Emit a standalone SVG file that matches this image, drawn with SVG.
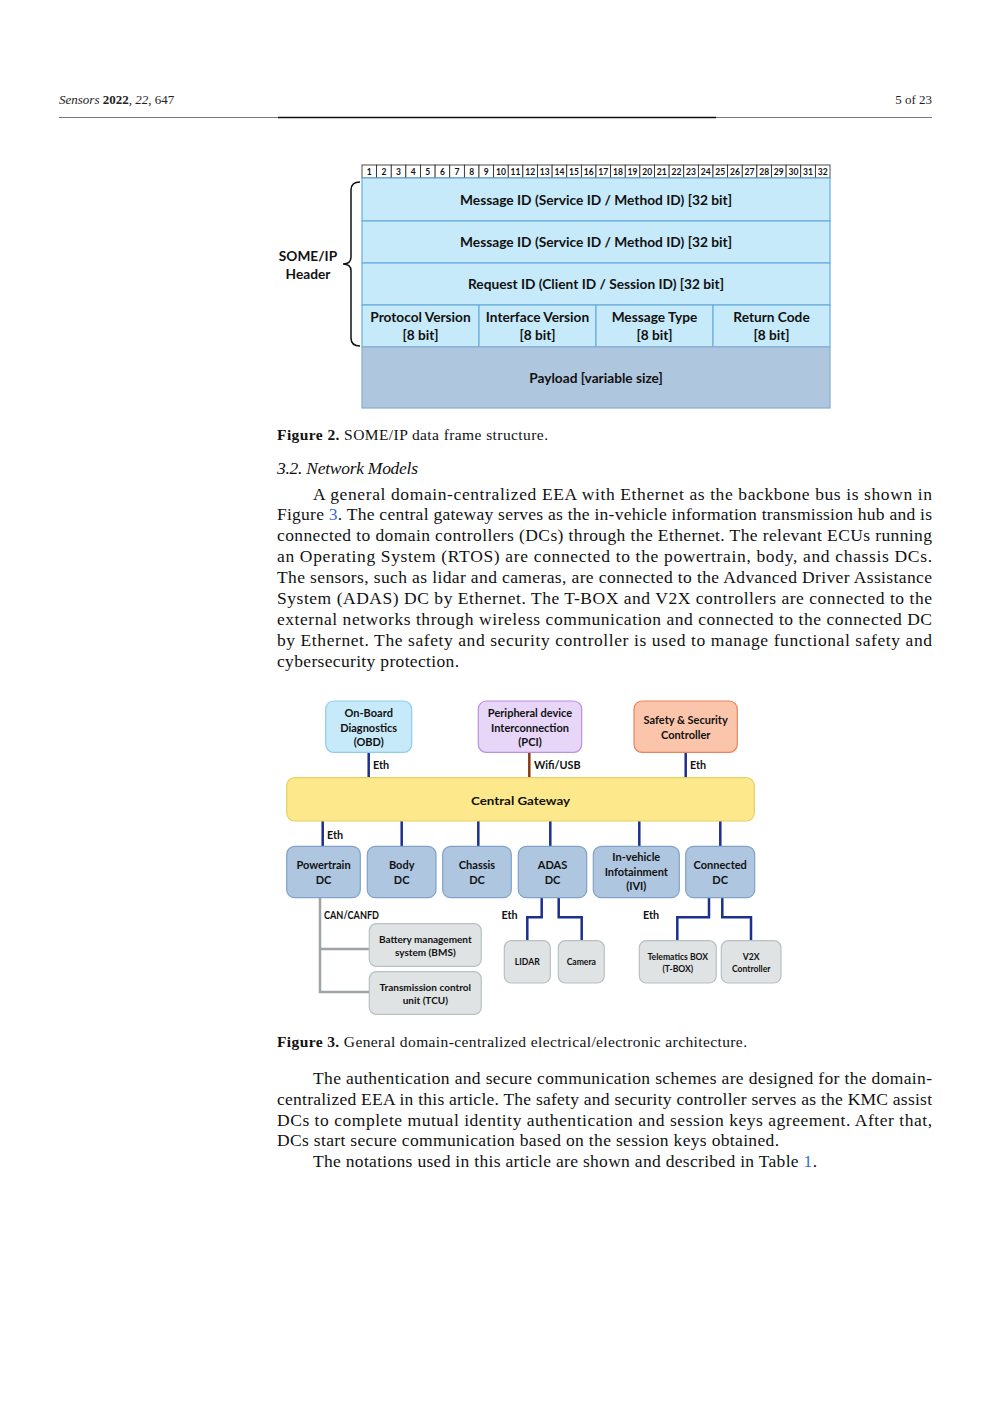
<svg xmlns="http://www.w3.org/2000/svg" width="992" height="1403" viewBox="0 0 992 1403">
<style>
.body{font-family:"Liberation Serif","DejaVu Serif",serif;font-size:17.5px;fill:#111}
.cap{font-family:"Liberation Serif",serif;font-size:15.5px;fill:#111}
.hdr{font-family:"Liberation Serif",serif;font-size:13px;fill:#222}
.lnk{fill:#3a6fd8}
.f2{font-family:Lato,"Open Sans",sans-serif;font-weight:bold;font-size:13.7px;fill:#111;text-anchor:middle}
.bit{font-family:Lato,sans-serif;font-weight:bold;font-size:8.5px;fill:#111;text-anchor:middle}
.bitc{fill:#fff;stroke:#222;stroke-width:0.8}
.row{fill:#c6eafa;stroke:#6aaee0;stroke-width:1.2}
.pay{fill:#aec6de;stroke:#8aaccd;stroke-width:1.2}
.n{font-family:Lato,"Open Sans",sans-serif;font-weight:bold;font-size:11px;fill:#111;text-anchor:middle}
.s{font-family:Lato,"Open Sans",sans-serif;font-weight:bold;font-size:10px;fill:#111;text-anchor:middle}
.t{font-family:Lato,"Open Sans",sans-serif;font-weight:bold;font-size:8.6px;fill:#111;text-anchor:middle}
.lb{font-family:Lato,"Open Sans",sans-serif;font-weight:bold;font-size:10.8px;fill:#111}
.dc{fill:#aec6df;stroke:#7fa2c6;stroke-width:1.2}
.gr{fill:#dfe3e4;stroke:#b9c0c3;stroke-width:1.2}
.eth{stroke:#1b2f8f;stroke-width:2.5;fill:none}
.can{stroke:#9ea5a7;stroke-width:2.5;fill:none}
</style>

<!-- page header -->
<g id="page-header">
<text class="hdr" x="59" y="104"><tspan font-style="italic">Sensors</tspan> <tspan font-weight="bold">2022</tspan>, <tspan font-style="italic">22</tspan>, 647</text>
<text class="hdr" x="932" y="104" text-anchor="end">5 of 23</text>
<line x1="59" y1="117.5" x2="932" y2="117.5" stroke="#555" stroke-width="0.8"/>
<line x1="278" y1="117.5" x2="716" y2="117.5" stroke="#111" stroke-width="1.6"/>
</g>

<!-- Figure 2 -->
<g id="fig2-bits">
<rect class="bitc" x="362.000" y="165" width="14.625" height="13"/><text class="bit" x="369.31" y="175">1</text>
<rect class="bitc" x="376.625" y="165" width="14.625" height="13"/><text class="bit" x="383.94" y="175">2</text>
<rect class="bitc" x="391.250" y="165" width="14.625" height="13"/><text class="bit" x="398.56" y="175">3</text>
<rect class="bitc" x="405.875" y="165" width="14.625" height="13"/><text class="bit" x="413.19" y="175">4</text>
<rect class="bitc" x="420.500" y="165" width="14.625" height="13"/><text class="bit" x="427.81" y="175">5</text>
<rect class="bitc" x="435.125" y="165" width="14.625" height="13"/><text class="bit" x="442.44" y="175">6</text>
<rect class="bitc" x="449.750" y="165" width="14.625" height="13"/><text class="bit" x="457.06" y="175">7</text>
<rect class="bitc" x="464.375" y="165" width="14.625" height="13"/><text class="bit" x="471.69" y="175">8</text>
<rect class="bitc" x="479.000" y="165" width="14.625" height="13"/><text class="bit" x="486.31" y="175">9</text>
<rect class="bitc" x="493.625" y="165" width="14.625" height="13"/><text class="bit" x="500.94" y="175">10</text>
<rect class="bitc" x="508.250" y="165" width="14.625" height="13"/><text class="bit" x="515.56" y="175">11</text>
<rect class="bitc" x="522.875" y="165" width="14.625" height="13"/><text class="bit" x="530.19" y="175">12</text>
<rect class="bitc" x="537.500" y="165" width="14.625" height="13"/><text class="bit" x="544.81" y="175">13</text>
<rect class="bitc" x="552.125" y="165" width="14.625" height="13"/><text class="bit" x="559.44" y="175">14</text>
<rect class="bitc" x="566.750" y="165" width="14.625" height="13"/><text class="bit" x="574.06" y="175">15</text>
<rect class="bitc" x="581.375" y="165" width="14.625" height="13"/><text class="bit" x="588.69" y="175">16</text>
<rect class="bitc" x="596.000" y="165" width="14.625" height="13"/><text class="bit" x="603.31" y="175">17</text>
<rect class="bitc" x="610.625" y="165" width="14.625" height="13"/><text class="bit" x="617.94" y="175">18</text>
<rect class="bitc" x="625.250" y="165" width="14.625" height="13"/><text class="bit" x="632.56" y="175">19</text>
<rect class="bitc" x="639.875" y="165" width="14.625" height="13"/><text class="bit" x="647.19" y="175">20</text>
<rect class="bitc" x="654.500" y="165" width="14.625" height="13"/><text class="bit" x="661.81" y="175">21</text>
<rect class="bitc" x="669.125" y="165" width="14.625" height="13"/><text class="bit" x="676.44" y="175">22</text>
<rect class="bitc" x="683.750" y="165" width="14.625" height="13"/><text class="bit" x="691.06" y="175">23</text>
<rect class="bitc" x="698.375" y="165" width="14.625" height="13"/><text class="bit" x="705.69" y="175">24</text>
<rect class="bitc" x="713.000" y="165" width="14.625" height="13"/><text class="bit" x="720.31" y="175">25</text>
<rect class="bitc" x="727.625" y="165" width="14.625" height="13"/><text class="bit" x="734.94" y="175">26</text>
<rect class="bitc" x="742.250" y="165" width="14.625" height="13"/><text class="bit" x="749.56" y="175">27</text>
<rect class="bitc" x="756.875" y="165" width="14.625" height="13"/><text class="bit" x="764.19" y="175">28</text>
<rect class="bitc" x="771.500" y="165" width="14.625" height="13"/><text class="bit" x="778.81" y="175">29</text>
<rect class="bitc" x="786.125" y="165" width="14.625" height="13"/><text class="bit" x="793.44" y="175">30</text>
<rect class="bitc" x="800.750" y="165" width="14.625" height="13"/><text class="bit" x="808.06" y="175">31</text>
<rect class="bitc" x="815.375" y="165" width="14.625" height="13"/><text class="bit" x="822.69" y="175">32</text>
</g>

<g id="fig2-row1"><rect class="row" x="362" y="178" width="468" height="43"/><text class="f2" x="596" y="205" textLength="272" lengthAdjust="spacingAndGlyphs">Message ID (Service ID / Method ID)  [32 bit]</text></g>
<g id="fig2-row2"><rect class="row" x="362" y="221" width="468" height="42"/><text class="f2" x="596" y="247" textLength="272" lengthAdjust="spacingAndGlyphs">Message ID (Service ID / Method ID)  [32 bit]</text></g>
<g id="fig2-row3"><rect class="row" x="362" y="263" width="468" height="42"/><text class="f2" x="596" y="289" textLength="256" lengthAdjust="spacingAndGlyphs">Request ID (Client ID / Session ID)  [32 bit]</text></g>
<g id="fig2-protocol"><rect class="row" x="362" y="305" width="117" height="42"/><text class="f2" x="420.5" y="322">Protocol Version</text><text class="f2" x="420.5" y="340">[8 bit]</text></g>
<g id="fig2-interface"><rect class="row" x="479" y="305" width="117" height="42"/><text class="f2" x="537.5" y="322">Interface Version</text><text class="f2" x="537.5" y="340">[8 bit]</text></g>
<g id="fig2-msgtype"><rect class="row" x="596" y="305" width="117" height="42"/><text class="f2" x="654.5" y="322">Message Type</text><text class="f2" x="654.5" y="340">[8 bit]</text></g>
<g id="fig2-retcode"><rect class="row" x="713" y="305" width="117" height="42"/><text class="f2" x="771.5" y="322">Return Code</text><text class="f2" x="771.5" y="340">[8 bit]</text></g>
<g id="fig2-payload"><rect class="pay" x="362" y="347" width="468" height="61"/><text class="f2" x="596" y="383">Payload [variable size]</text></g>

<g id="fig2-brace">
<path d="M360,182 Q351,182 351,190 L351,257 Q351,264 343,264 Q351,264 351,271 L351,338 Q351,346 360,346" fill="none" stroke="#111" stroke-width="1.5"/>
<text class="f2" x="308" y="261" font-size="13">SOME/IP</text>
<text class="f2" x="308" y="279" font-size="13">Header</text>
</g>

<g id="captions-text">
<text class="cap" x="277" y="440" textLength="271" lengthAdjust="spacing"><tspan font-weight="bold">Figure 2.</tspan> SOME/IP data frame structure.</text>
<text class="body" x="277" y="474" font-style="italic" textLength="141" lengthAdjust="spacing">3.2. Network Models</text>

<text class="body" x="313" y="499.5" textLength="619" lengthAdjust="spacing">A general domain-centralized EEA with Ethernet as the backbone bus is shown in</text>
<text class="body" x="277" y="520.4" textLength="655" lengthAdjust="spacing">Figure <tspan class="lnk">3</tspan>. The central gateway serves as the in-vehicle information transmission hub and is</text>
<text class="body" x="277" y="541.3" textLength="655" lengthAdjust="spacing">connected to domain controllers (DCs) through the Ethernet. The relevant ECUs running</text>
<text class="body" x="277" y="562.1" textLength="655" lengthAdjust="spacing">an Operating System (RTOS) are connected to the powertrain, body, and chassis DCs.</text>
<text class="body" x="277" y="583" textLength="655" lengthAdjust="spacing">The sensors, such as lidar and cameras, are connected to the Advanced Driver Assistance</text>
<text class="body" x="277" y="603.9" textLength="655" lengthAdjust="spacing">System (ADAS) DC by Ethernet.  The T-BOX and V2X controllers are connected to the</text>
<text class="body" x="277" y="624.8" textLength="655" lengthAdjust="spacing">external networks through wireless communication and connected to the connected DC</text>
<text class="body" x="277" y="645.6" textLength="655" lengthAdjust="spacing">by Ethernet. The safety and security controller is used to manage functional safety and</text>
<text class="body" x="277" y="666.5" textLength="182" lengthAdjust="spacing">cybersecurity protection.</text>

<text class="cap" x="277" y="1047" textLength="470" lengthAdjust="spacing"><tspan font-weight="bold">Figure 3.</tspan> General domain-centralized electrical/electronic architecture.</text>

<text class="body" x="313" y="1084" textLength="619" lengthAdjust="spacing">The authentication and secure communication schemes are designed for the domain-</text>
<text class="body" x="277" y="1104.8" textLength="655" lengthAdjust="spacing">centralized EEA in this article. The safety and security controller serves as the KMC assist</text>
<text class="body" x="277" y="1125.6" textLength="655" lengthAdjust="spacing">DCs to complete mutual identity authentication and session keys agreement. After that,</text>
<text class="body" x="277" y="1146.4" textLength="502" lengthAdjust="spacing">DCs start secure communication based on the session keys obtained.</text>
<text class="body" x="313" y="1167.2" textLength="504" lengthAdjust="spacing">The notations used in this article are shown and described in Table <tspan class="lnk">1</tspan>.</text>
</g>

<!-- Figure 3 connectors -->
<g id="connectors">
<line class="eth" x1="368.7" y1="752" x2="368.7" y2="778"/>
<line x1="529.3" y1="752" x2="529.3" y2="778" stroke="#8b3a12" stroke-width="2.5"/>
<line class="eth" x1="685.7" y1="752" x2="685.7" y2="778"/>
<line class="eth" x1="322.7" y1="821" x2="322.7" y2="847"/>
<line class="eth" x1="401.7" y1="821" x2="401.7" y2="847"/>
<line class="eth" x1="478.3" y1="821" x2="478.3" y2="847"/>
<line class="eth" x1="550.3" y1="821" x2="550.3" y2="847"/>
<line class="eth" x1="639.3" y1="821" x2="639.3" y2="847"/>
<line class="eth" x1="720.3" y1="821" x2="720.3" y2="847"/>
<path class="can" d="M320,898 L320,992 L369.5,992 M320,949 L369.5,949"/>
<path class="eth" d="M541.7,898 L541.7,917.3 L527.3,917.3 L527.3,941"/>
<path class="eth" d="M558.7,898 L558.7,917.3 L581.7,917.3 L581.7,941"/>
<path class="eth" d="M709,898 L709,917.3 L677.3,917.3 L677.3,941"/>
<path class="eth" d="M722.3,898 L722.3,917.3 L751,917.3 L751,941"/>
<text class="lb" x="373" y="769">Eth</text>
<text class="lb" x="534" y="769">Wifi/USB</text>
<text class="lb" x="690" y="769">Eth</text>
<text class="lb" x="327" y="839">Eth</text>
<text class="lb" x="324" y="918.5" font-size="9.8" textLength="55" lengthAdjust="spacingAndGlyphs">CAN/CANFD</text>
<text class="lb" x="501.5" y="918.5">Eth</text>
<text class="lb" x="643" y="918.5">Eth</text>
</g>

<g id="obd"><rect x="325.7" y="701" width="86" height="51.3" rx="8" fill="#c6eafa" stroke="#8fcdee" stroke-width="1.2"/>
<text class="n" x="368.7" y="717">On-Board</text><text class="n" x="368.7" y="731.5">Diagnostics</text><text class="n" x="368.7" y="746">(OBD)</text></g>
<g id="pci"><rect x="478.3" y="701" width="103.4" height="51.3" rx="8" fill="#e7d6f8" stroke="#b98fe2" stroke-width="1.2"/>
<text class="n" x="530" y="717">Peripheral device</text><text class="n" x="530" y="731.5">Interconnection</text><text class="n" x="530" y="746">(PCI)</text></g>
<g id="ssc"><rect x="634" y="701" width="103.3" height="51.3" rx="8" fill="#fbc5ab" stroke="#e8845c" stroke-width="1.2"/>
<text class="n" x="685.7" y="724">Safety &amp; Security</text><text class="n" x="685.7" y="738.5">Controller</text></g>

<g id="gateway"><rect x="286.7" y="777.7" width="467.6" height="43.3" rx="8" fill="#fde98b" stroke="#e6d062" stroke-width="1.2"/>
<text class="n" x="520.5" y="805" font-size="14.5" textLength="99" lengthAdjust="spacingAndGlyphs">Central Gateway</text></g>

<g id="powertrain"><rect class="dc" x="286.7" y="846.3" width="73.6" height="51.4" rx="8"/><text class="n" x="323.5" y="869">Powertrain</text><text class="n" x="323.5" y="884">DC</text></g>
<g id="body"><rect class="dc" x="367.3" y="846.3" width="68.7" height="51.4" rx="8"/><text class="n" x="401.7" y="869">Body</text><text class="n" x="401.7" y="884">DC</text></g>
<g id="chassis"><rect class="dc" x="442.7" y="846.3" width="68.6" height="51.4" rx="8"/><text class="n" x="477" y="869">Chassis</text><text class="n" x="477" y="884">DC</text></g>
<g id="adas"><rect class="dc" x="518.3" y="846.3" width="68.4" height="51.4" rx="8"/><text class="n" x="552.5" y="869">ADAS</text><text class="n" x="552.5" y="884">DC</text></g>
<g id="ivi"><rect class="dc" x="593.3" y="846.3" width="86" height="51.4" rx="8"/><text class="n" x="636.3" y="861">In-vehicle</text><text class="n" x="636.3" y="875.5">Infotainment</text><text class="n" x="636.3" y="890">(IVI)</text></g>
<g id="connected"><rect class="dc" x="685.7" y="846.3" width="69" height="51.4" rx="8"/><text class="n" x="720.2" y="869">Connected</text><text class="n" x="720.2" y="884">DC</text></g>

<g id="bms"><rect class="gr" x="369.3" y="923.7" width="112" height="42.6" rx="7"/><text class="s" x="425.3" y="942.5">Battery management</text><text class="s" x="425.3" y="955.5">system (BMS)</text></g>
<g id="tcu"><rect class="gr" x="369.3" y="971.7" width="112" height="42.6" rx="7"/><text class="s" x="425.3" y="990.5">Transmission control</text><text class="s" x="425.3" y="1003.5">unit (TCU)</text></g>
<g id="lidar"><rect class="gr" x="504.3" y="940.7" width="46" height="42.3" rx="7"/><text class="t" x="527.3" y="965">LIDAR</text></g>
<g id="camera"><rect class="gr" x="558.3" y="940.7" width="46" height="42.3" rx="7"/><text class="t" x="581.3" y="965">Camera</text></g>
<g id="tbox"><rect class="gr" x="639.3" y="940.7" width="77" height="42.3" rx="7"/><text class="t" x="677.8" y="959.5">Telematics BOX</text><text class="t" x="677.8" y="971.5">(T-BOX)</text></g>
<g id="v2x"><rect class="gr" x="721.3" y="940.7" width="59.7" height="42.3" rx="7"/><text class="t" x="751.2" y="959.5">V2X</text><text class="t" x="751.2" y="971.5">Controller</text></g>
</svg>
